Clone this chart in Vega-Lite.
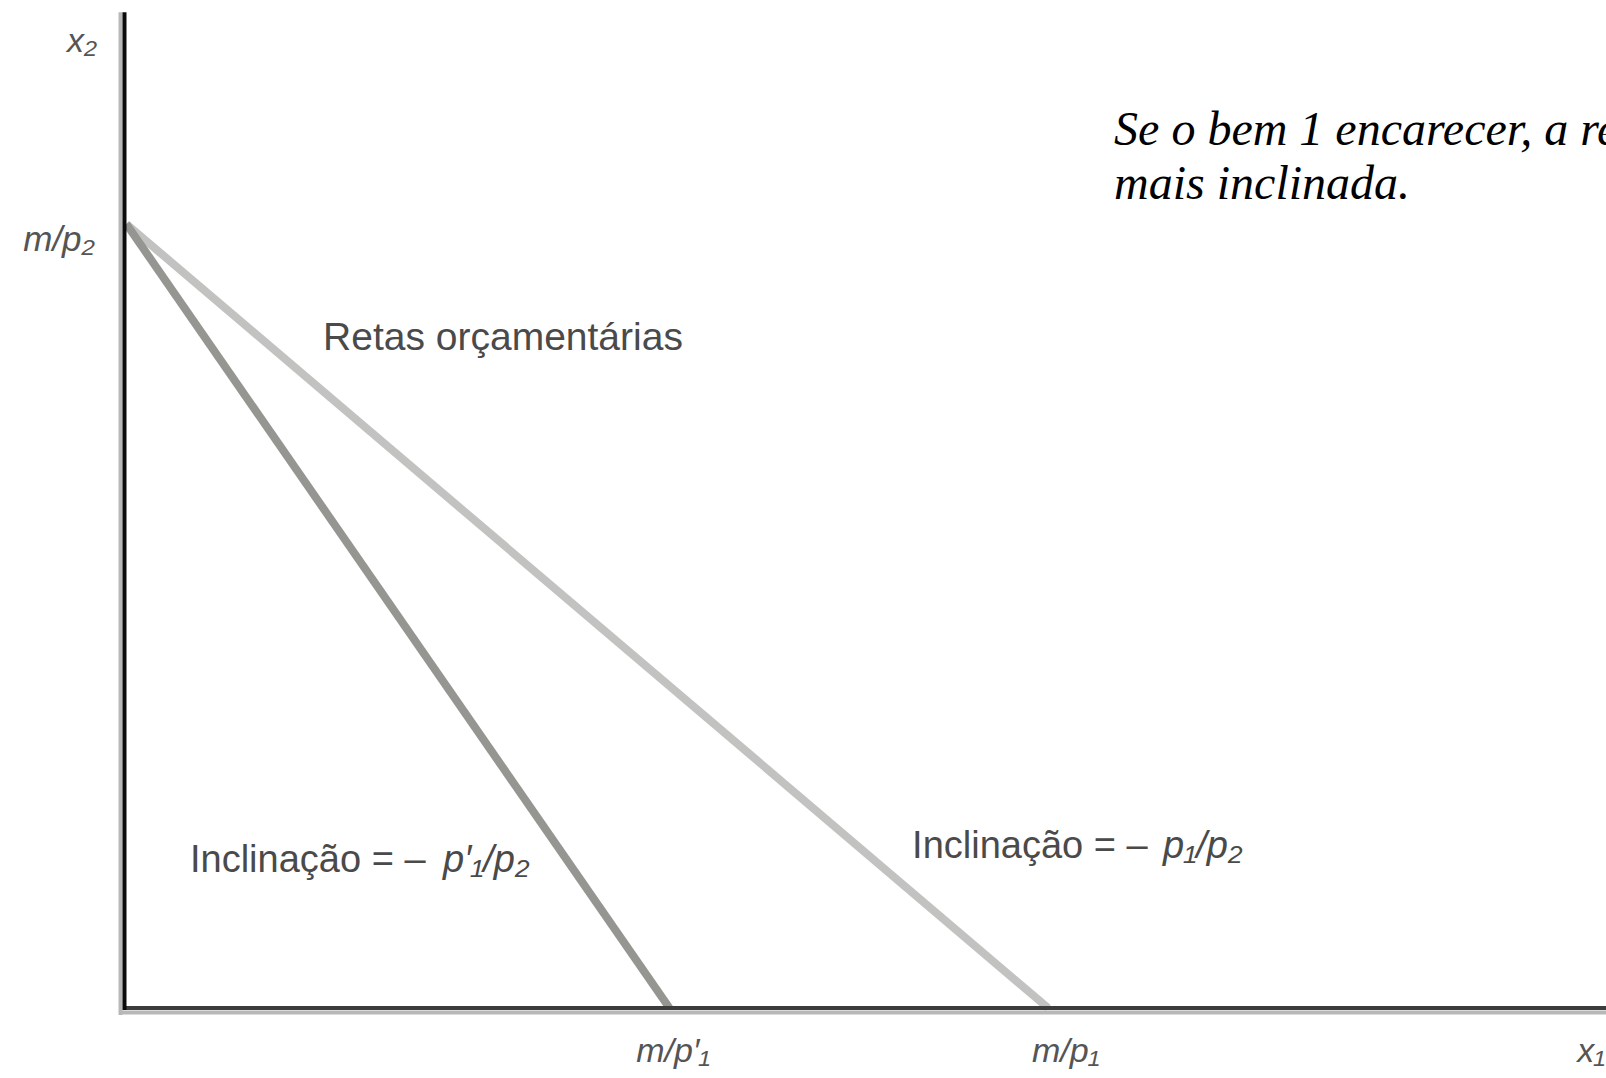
{
  "$schema": "https://vega.github.io/schema/vega-lite/v6.json",
  "width": 1606,
  "height": 1078,
  "padding": 0,
  "autosize": "none",
  "background": "white",
  "config": {"view": {"stroke": null}},
  "encoding": {
    "x": {"field": "x", "type": "quantitative", "scale": {"domain": [-1.348, 16.04], "nice": false, "zero": false}, "axis": null},
    "y": {"field": "y", "type": "quantitative", "scale": {"domain": [-0.714, 10.286], "nice": false, "zero": false}, "axis": null}
  },
  "layer": [
    {
      "data": {"values": [{"line": "p1", "x": 0.02, "y": 8.0, "x2": 10.0, "y2": 0.0}]},
      "mark": {"type": "rule", "color": "#c2c2c0", "strokeWidth": 8, "strokeCap": "butt"},
      "encoding": {"x2": {"field": "x2"}, "y2": {"field": "y2"}}
    },
    {
      "data": {"values": [{"line": "p1prime", "x": 0.02, "y": 8.0, "x2": 5.9, "y2": 0.0}]},
      "mark": {"type": "rule", "color": "#959591", "strokeWidth": 8, "strokeCap": "butt"},
      "encoding": {"x2": {"field": "x2"}, "y2": {"field": "y2"}}
    },
    {
      "data": {"values": [
        {"axis": "x2", "x": -0.043, "y": -0.07, "x2": -0.043, "y2": 10.16},
        {"axis": "x1", "x": -0.043, "y": -0.046, "x2": 16.1, "y2": -0.046}
      ]},
      "mark": {"type": "rule", "color": "#b8b8b8", "strokeWidth": 4},
      "encoding": {"x2": {"field": "x2"}, "y2": {"field": "y2"}}
    },
    {
      "data": {"values": [{"axis": "x1", "x": 0.0, "y": 0.0, "x2": 16.1, "y2": 0.0}]},
      "mark": {"type": "rule", "color": "#3c3c3c", "strokeWidth": 4},
      "encoding": {"x2": {"field": "x2"}, "y2": {"field": "y2"}}
    },
    {
      "data": {"values": [{"axis": "x2", "x": 0.0, "y": -0.02, "x2": 0.0, "y2": 10.16}]},
      "mark": {"type": "rule", "color": "#0a0a0a", "strokeWidth": 4},
      "encoding": {"x2": {"field": "x2"}, "y2": {"field": "y2"}}
    },
    {
      "data": {"values": [
        {"label": "x₂", "x": -0.46, "y": 9.755},
        {"label": "m/p′₁", "x": 5.94, "y": -0.55},
        {"label": "m/p₁", "x": 10.19, "y": -0.55}
      ]},
      "mark": {"type": "text", "font": "Liberation Sans", "fontStyle": "italic", "fontSize": 34, "color": "#555555", "align": "center", "baseline": "alphabetic"},
      "encoding": {"text": {"field": "label"}}
    },
    {
      "data": {"values": [{"label": "m/p₂", "x": -0.32, "y": 7.72}]},
      "mark": {"type": "text", "font": "Liberation Sans", "fontStyle": "italic", "fontSize": 35, "color": "#555555", "align": "right", "baseline": "alphabetic"},
      "encoding": {"text": {"field": "label"}}
    },
    {
      "data": {"values": [{"label": "x₁", "x": 15.73, "y": -0.55}]},
      "mark": {"type": "text", "font": "Liberation Sans", "fontStyle": "italic", "fontSize": 34, "color": "#555555", "align": "left", "baseline": "alphabetic"},
      "encoding": {"text": {"field": "label"}}
    },
    {
      "data": {"values": [
        {"label": "Retas orçamentárias", "x": 2.15, "y": 6.714}
      ]},
      "mark": {"type": "text", "font": "Liberation Sans", "fontSize": 39, "color": "#4a4a4a", "align": "left", "baseline": "alphabetic"},
      "encoding": {"text": {"field": "label"}}
    },
    {
      "data": {"values": [
        {"label": "Inclinação = –", "x": 0.709, "y": 1.388},
        {"label": "Inclinação = –", "x": 8.527, "y": 1.531}
      ]},
      "mark": {"type": "text", "font": "Liberation Sans", "fontSize": 38, "color": "#4a4a4a", "align": "left", "baseline": "alphabetic"},
      "encoding": {"text": {"field": "label"}}
    },
    {
      "data": {"values": [
        {"label": "p′₁/p₂", "x": 3.449, "y": 1.388},
        {"label": "p₁/p₂", "x": 11.245, "y": 1.531}
      ]},
      "mark": {"type": "text", "font": "Liberation Sans", "fontStyle": "italic", "fontSize": 38, "color": "#4a4a4a", "align": "left", "baseline": "alphabetic"},
      "encoding": {"text": {"field": "label"}}
    },
    {
      "data": {"values": [
        {"label": "Se o bem 1 encarecer, a reta orçamentária fica", "x": 10.714, "y": 8.81},
        {"label": "mais inclinada.", "x": 10.714, "y": 8.26}
      ]},
      "mark": {"type": "text", "font": "Liberation Serif", "fontStyle": "italic", "fontSize": 48, "color": "#000000", "align": "left", "baseline": "alphabetic"},
      "encoding": {"text": {"field": "label"}}
    }
  ]
}
